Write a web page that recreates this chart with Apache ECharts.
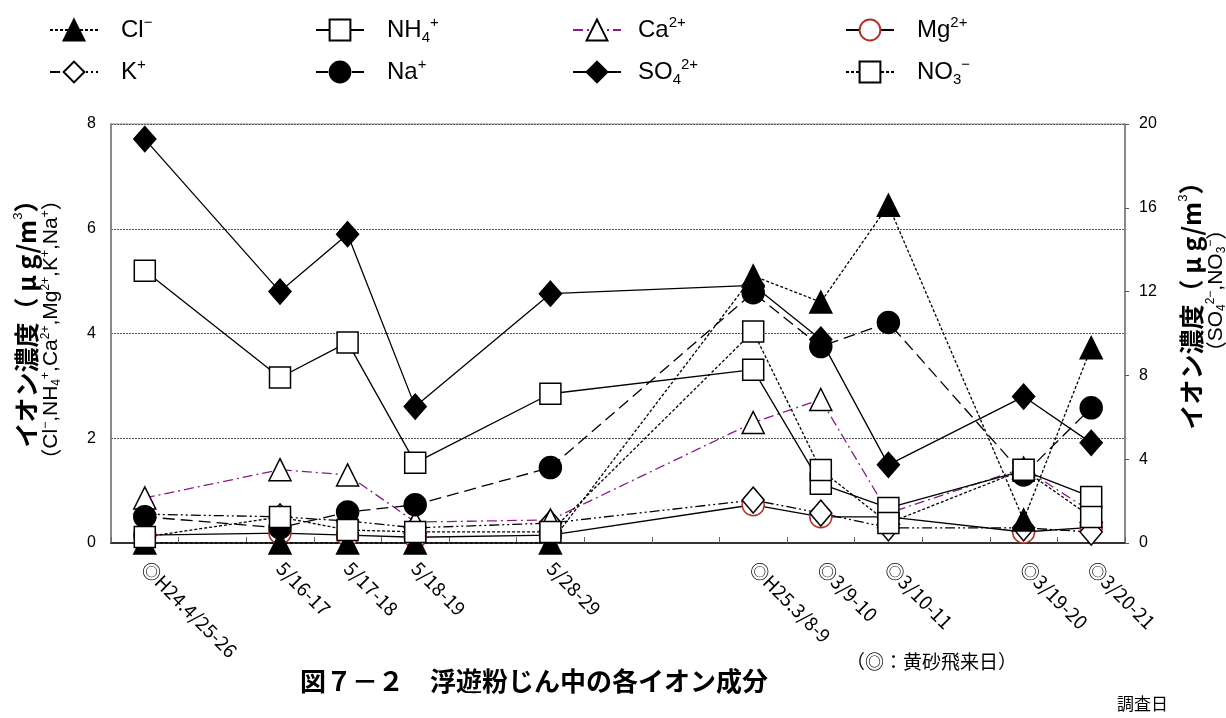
<!DOCTYPE html>
<html><head><meta charset="utf-8">
<script src="https://cdn.jsdelivr.net/npm/echarts@6/dist/echarts.min.js"></script>
<style>html,body{margin:0;padding:0;background:#fff}#c{width:1226px;height:718px}</style>
</head><body><div id="c"></div>
<script>
// ---- data ----
const categories = ['◎H24.4/25-26','','5/16-17','5/17-18','5/18-19','','5/28-29','','','◎H25.3/8-9','◎3/9-10','◎3/10-11','','◎3/19-20','◎3/20-21'];
const leftTicks = [0, 2, 4, 6, 8];
const rightTicks = [0, 4, 8, 12, 16, 20];
// left axis (µg/m3)
const cl  = [0,   null, 0,    0,    0,    null, 0,    null, null, 5.1,  4.6,  6.45, null, 0.44, 3.73];
const nh4 = [5.2, null, 3.16, 3.83, 1.53, null, 2.85, null, null, 3.31, 1.13, 0.67, null, 1.38, 0.88];
const ca  = [0.86,null, 1.4,  1.3,  0.4,  null, 0.44, null, null, 2.3,  2.74, 0.57, null, 1.43, 0.6];
const mg  = [0.15,null, 0.19, 0.15, 0.11, null, 0.15, null, null, 0.73, 0.5,  0.5,  null, 0.21, 0.3];
const k   = [0.55,null, 0.5,  0.42, 0.29, null, 0.38, null, null, 0.82, 0.57, 0.29, null, 0.29, 0.21];
const na  = [0.5, null, 0.29, 0.59, 0.73, null, 1.44, null, null, 4.78, 3.75, 4.21, null, 1.3,  2.58];
// right axis (µg/m3)
const so4 = [19.28,null,12.0, 14.74,6.51, null, 11.9, null, null, 12.3, 9.71, 3.73, null, 6.99, 4.78];
const no3 = [0.29,null, 1.24, 0.62, 0.53, null, 0.53, null, null, 10.1, 3.49, 0.95, null, 3.5,  1.24];

const legendNames = {
  'Cl-': '{n|Cl}{p|−}', 'NH4+': '{n|NH}{b|4}{p|+}', 'Ca2+': '{n|Ca}{p|2+}', 'Mg2+': '{n|Mg}{p|2+}',
  'K+': '{n|K}{p|+}', 'Na+': '{n|Na}{p|+}', 'SO42+': '{n|SO}{b|4}{p|2+}', 'NO3-': '{n|NO}{b|3}{p|−}'
};
const titleText = '図７－２　浮遊粉じん中の各イオン成分';
const noteText = '（◎：黄砂飛来日）';
const xName = '調査日';

// ---- styles ----
const SANS = "'Liberation Sans', Arial, 'Noto Sans CJK JP', sans-serif";
const JP = "'Noto Sans CJK JP', sans-serif";
const BLACK = '#000';

function mk(name, data, yIdx, symbol, size, fill, border, lineColor, lineType) {
  return {
    name, type: 'line', data, yAxisIndex: yIdx, connectNulls: true,
    symbol, symbolSize: size, showSymbol: true,
    itemStyle: { color: fill, borderColor: border, borderWidth: 1.5 },
    lineStyle: { color: lineColor, width: 1.3, type: lineType },
    emphasis: { disabled: true }, animation: false
  };
}

const series = [
  mk('Mg2+', mg, 0, 'circle', 22, '#fff', '#b2302a', BLACK, 'solid'),
  mk('K+', k, 0, 'diamond', [22, 26], '#fff', BLACK, BLACK, [10, 3, 2, 3, 2, 3]),
  mk('Ca2+', ca, 0, 'triangle', 22, '#fff', BLACK, '#8a1a8a', [10, 4, 2, 4]),
  mk('Cl-', cl, 0, 'triangle', 22, BLACK, BLACK, BLACK, [3, 2]),
  mk('Na+', na, 0, 'circle', 22, BLACK, BLACK, BLACK, [12, 6]),
  mk('SO42+', so4, 1, 'diamond', [22, 25], BLACK, BLACK, BLACK, 'solid'),
  mk('NH4+', nh4, 0, 'rect', 21, '#fff', BLACK, BLACK, 'solid'),
  mk('NO3-', no3, 1, 'rect', 21, '#fff', BLACK, BLACK, [3, 2])
];

const legendRich = {
  n: { fontSize: 24, fontFamily: SANS, color: BLACK, lineHeight: 30 },
  p: { fontSize: 15, fontFamily: SANS, color: BLACK, verticalAlign: 'top', lineHeight: 16 },
  b: { fontSize: 15, fontFamily: SANS, color: BLACK, verticalAlign: 'bottom', lineHeight: 16 }
};
function leg(name, left, top, pad) {
  return {
    data: [name], left, top, orient: 'horizontal', itemWidth: 48, itemHeight: 26,
    padding: 0, selectedMode: false,
    formatter: n => legendNames[n],
    textStyle: { rich: legendRich, padding: [0, 0, 0, pad] }
  };
}

const axisNameRich = {
  a: { fontSize: 25, fontFamily: JP, fontWeight: 'bold', color: BLACK, lineHeight: 28 },
  s: { fontSize: 13, fontFamily: SANS, color: BLACK, verticalAlign: 'top', lineHeight: 14 },
  c: { fontSize: 21, fontFamily: SANS, color: BLACK, lineHeight: 23 },
  cp: { fontSize: 21, fontFamily: JP, color: BLACK, lineHeight: 23 },
  cs: { fontSize: 12, fontFamily: SANS, color: BLACK, verticalAlign: 'top', lineHeight: 12 },
  cb: { fontSize: 12, fontFamily: SANS, color: BLACK, verticalAlign: 'bottom', lineHeight: 12 },
  sp24: { fontSize: 10, width: 24 },
  sp18: { fontSize: 10, width: 18 }
};
const leftName = '{sp24| }{a|イオン濃度（ μ g/m}{s|3}{a|）}\n{cp|（}{c|Cl}{cs|−}{c|,NH}{cb|4}{cs|+}{c|,Ca}{cs|2+}{c|,Mg}{cs|2+}{c|,K}{cs|+}{c|,Na}{cs|+}{cp|）}';
const rightName = '{a|イオン濃度（ μ g/m}{s|3}{a|）}\n{sp18| }{cp|（}{c|SO}{cb|4}{cs|2−}{c|,NO}{cb|3}{cs|−}{cp|）}';

const option = {
  animation: false,
  backgroundColor: '#fff',
  title: [
    { text: titleText, left: 300, top: 668, padding: 0, textStyle: { fontSize: 26, fontWeight: 'bold', fontFamily: JP, color: BLACK } },
    { text: noteText, left: 846, top: 652, padding: 0, textStyle: { fontSize: 19, fontWeight: 'normal', fontFamily: JP, color: BLACK } },
    { text: xName, left: 1117, top: 695, padding: 0, textStyle: { fontSize: 17, fontWeight: 'normal', fontFamily: JP, color: BLACK } }
  ],
  legend: [
    leg('Cl-', 49, 15, 18), leg('NH4+', 315, 15, 18), leg('Ca2+', 572, 15, 12), leg('Mg2+', 845, 15, 18),
    leg('K+', 49, 57, 18), leg('Na+', 315, 57, 18), leg('SO42+', 572, 57, 12), leg('NO3-', 845, 57, 18)
  ],
  grid: { left: 111, right: 101, top: 124, bottom: 175, show: true, borderColor: '#888', borderWidth: 1,
          containLabel: false, outerBoundsMode: 'none' },
  xAxis: {
    type: 'category', data: categories, boundaryGap: true,
    axisLine: { lineStyle: { color: '#333', width: 2 } },
    axisTick: { show: true, inside: true, length: 6, interval: 0, lineStyle: { color: '#666' } },
    axisLabel: { interval: 0, rotate: -45, fontSize: 19, margin: 22, color: BLACK, fontFamily: JP },
    splitLine: { show: false }
  },
  yAxis: [
    {
      type: 'value', min: leftTicks[0], max: leftTicks[leftTicks.length - 1], interval: leftTicks[1] - leftTicks[0], position: 'left',
      axisLine: { show: true, lineStyle: { color: '#777', width: 1.5 } },
      axisTick: { show: false },
      axisLabel: { fontSize: 16, color: BLACK, margin: 15, fontFamily: SANS },
      splitLine: { show: true, lineStyle: { type: [2, 1], color: '#555', width: 1 } },
      name: leftName, nameLocation: 'middle', nameRotate: 90, nameGap: 48,
      nameTextStyle: { rich: axisNameRich, align: 'center', padding: [0, 0, 0, 8] }
    },
    {
      type: 'value', min: rightTicks[0], max: rightTicks[rightTicks.length - 1], interval: rightTicks[1] - rightTicks[0], position: 'right',
      axisLine: { show: true, lineStyle: { color: '#777', width: 1.5 } },
      axisTick: { show: true, length: 4, lineStyle: { color: '#555' } },
      axisLabel: { fontSize: 16, color: BLACK, margin: 14, fontFamily: SANS },
      splitLine: { show: false },
      name: rightName, nameLocation: 'middle', nameRotate: 90, nameGap: 52,
      nameTextStyle: { rich: axisNameRich, align: 'center', padding: [0, 0, 0, 68] }
    }
  ],
  series
};
const chart = echarts.init(document.getElementById('c'), null, { renderer: 'canvas' });
chart.setOption(option);
</script></body></html>
